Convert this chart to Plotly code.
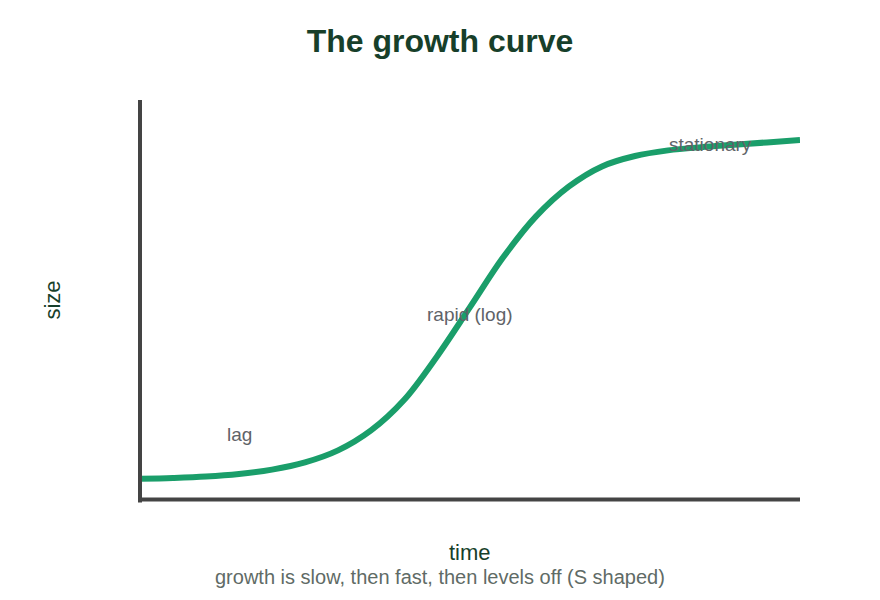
import plotly.graph_objects as go

time = [0, 0.5, 1, 1.5, 2, 2.5, 3, 3.5, 4, 4.5, 5, 5.5, 6, 6.5, 7, 7.5, 8, 8.5, 9, 9.5, 10]
size = [5.3, 5.5, 5.85, 6.5, 7.6, 9.4, 12.4, 17.4, 25.0, 35.9, 48.2, 60.6, 70.9, 78.4, 83.4,
        86.0, 87.4, 88.2, 88.8, 89.4, 90.0]

phase_labels = ["lag", "rapid (log)", "stationary"]
phase_x = [1.5, 5.0, 8.64]
phase_y = [16.5, 46.5, 89.0]

FONT = "Liberation Sans, Arial, sans-serif"
DARK = "#173f2a"
GREEN = "#1a9e6a"
AXIS = "#444444"

fig = go.Figure()
fig.add_trace(go.Scatter(x=time, y=size, mode="lines",
                         line=dict(color=GREEN, width=6, shape="spline", smoothing=1.0),
                         hoverinfo="skip", showlegend=False, cliponaxis=False))

for t, x, y in zip(phase_labels, phase_x, phase_y):
    fig.add_annotation(x=x, y=y, text=t, showarrow=False,
                       font=dict(family=FONT, size=19, color="#5f6368"))

fig.add_annotation(x=0.5, y=-0.13, xref="paper", yref="paper", yanchor="middle", text="time",
                   showarrow=False, font=dict(family=FONT, size=22, color=DARK))
fig.add_annotation(x=(440 - 140) / 660, y=-0.1925, xref="paper", yref="paper", yanchor="middle",
                   text="growth is slow, then fast, then levels off (S shaped)",
                   showarrow=False, font=dict(family=FONT, size=20, color="#5f6b66"))

# axis lines (left and bottom)
fig.add_shape(type="line", xref="paper", yref="paper", x0=0, x1=0, y0=-0.006, y1=1,
              line=dict(color=AXIS, width=4))
fig.add_shape(type="line", xref="paper", yref="paper", x0=0, x1=1, y0=0.001, y1=0.001,
              line=dict(color=AXIS, width=4))

fig.update_layout(
    width=880, height=600,
    margin=dict(l=140, r=80, t=100, b=100),
    paper_bgcolor="white", plot_bgcolor="white",
    title=dict(text="<b>The growth curve</b>", x=0.5, xanchor="center", y=0.932, yanchor="middle",
               font=dict(family=FONT, size=32, color=DARK)),
    xaxis=dict(range=[0, 10], showgrid=False, zeroline=False, showticklabels=False, ticks="",
               showline=False),
    yaxis=dict(range=[0, 100], showgrid=False, zeroline=False, showticklabels=False, ticks="",
               showline=False,
               title=dict(text="size", font=dict(family=FONT, size=22, color=DARK), standoff=72)),
    font=dict(family=FONT),
)

fig.write_html("out.html")
